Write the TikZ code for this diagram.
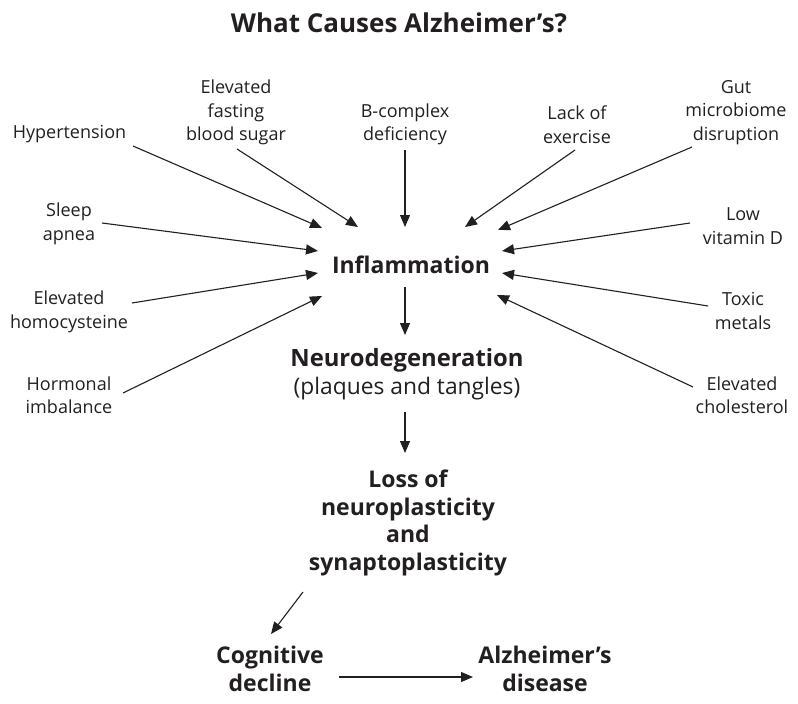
\documentclass[tikz,border=0pt]{standalone}
\usepackage{fontspec}
\setmainfont{Open Sans}
\usetikzlibrary{arrows.meta}
\definecolor{ink}{HTML}{231F20}
\begin{document}
\begin{tikzpicture}[x=1pt,y=-1pt,
  lab/.style={align=center,inner sep=0pt,text=ink,font=\fontsize{18}{23.5}\selectfont},
  big/.style={align=center,inner sep=0pt,text=ink,font=\fontsize{23}{27.5}\selectfont\bfseries},
  arr/.style={draw=ink,line width=1.1pt,-{Triangle[length=12pt,width=10pt]}}]
\useasboundingbox (0,0) rectangle (798,704);
\node[inner sep=0pt,text=ink,font=\fontsize{26}{30}\selectfont\bfseries] (title) at (399,23) {What Causes Alzheimer’s?};
% causes
\node[lab] (hyp) at (69.5,134) {Hypertension};
\node[lab] (fast) at (236,112.5) {Elevated\\fasting\\blood sugar};
\node[lab] (bcx) at (405,124.5) {B-complex\\deficiency};
\node[lab] (lack) at (577,124.5) {Lack of\\exercise};
\node[lab] (gut) at (736,112.5) {Gut\\microbiome\\disruption};
\node[lab] (sleep) at (69,224) {Sleep\\apnea};
\node[lab] (homo) at (69,312) {Elevated\\homocysteine};
\node[lab] (horm) at (69,395) {Hormonal\\imbalance};
\node[lab] (vitd) at (743,226) {Low\\vitamin D};
\node[lab] (toxic) at (743,311) {Toxic\\metals};
\node[lab] (chol) at (742,395) {Elevated\\cholesterol};
% chain
\node[big] (infl) at (411,265) {Inflammation};
\node[big,font=\fontsize{22.8}{27.5}\selectfont] (neuro) at (407,374) {\fontsize{23.8}{27.5}\selectfont\textbf{Neurodegeneration}\\(plaques and tangles)};
\node[big] (loss) at (408,523) {Loss of\\neuroplasticity\\and\\synaptoplasticity};
\node[big] (cog) at (270,669) {Cognitive\\decline};
\node[big] (alz) at (545,669) {Alzheimer’s\\disease};
% arrow end points
\coordinate (hyp-s) at (133,146);   \coordinate (hyp-e) at (322,228);
\coordinate (fast-s) at (237,149);  \coordinate (fast-e) at (358,227);
\coordinate (bcx-s) at (405,150);   \coordinate (bcx-e) at (405,227);
\coordinate (lack-s) at (575,150);  \coordinate (lack-e) at (465,227);
\coordinate (gut-s) at (692,147);   \coordinate (gut-e) at (498,230);
\coordinate (sleep-s) at (102,223); \coordinate (sleep-e) at (318,251);
\coordinate (homo-s) at (132,303);  \coordinate (homo-e) at (318,273);
\coordinate (horm-s) at (123,393);  \coordinate (horm-e) at (322,296);
\coordinate (vitd-s) at (690,223);  \coordinate (vitd-e) at (502,251);
\coordinate (toxic-s) at (708,306); \coordinate (toxic-e) at (502,273);
\coordinate (chol-s) at (693,387);  \coordinate (chol-e) at (497,295);
\foreach \n in {hyp,fast,bcx,lack,gut,sleep,homo,horm,vitd,toxic,chol}
  \draw[arr] (\n-s) -- (\n-e);
\coordinate (infl-s) at (405,287);  \coordinate (neuro-n) at (405,335);
\coordinate (neuro-s) at (405,412); \coordinate (loss-n) at (405,453);
\coordinate (loss-s) at (303,592);  \coordinate (cog-n) at (271,634);
\coordinate (cog-e) at (339,677);   \coordinate (alz-w) at (473,677);
\draw[arr] (infl-s) -- (neuro-n);
\draw[arr] (neuro-s) -- (loss-n);
\draw[arr] (loss-s) -- (cog-n);
\draw[arr] (cog-e) -- (alz-w);
\end{tikzpicture}
\end{document}
